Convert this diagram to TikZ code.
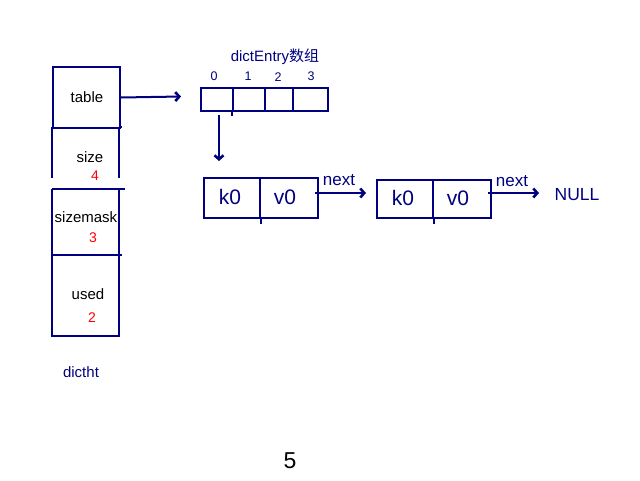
\documentclass[tikz,border=0pt]{standalone}
\usepackage{fontspec}
\setmainfont{Liberation Sans}
\newfontfamily\cjk{Noto Sans CJK SC}
\usetikzlibrary{arrows.meta}
\definecolor{lnavy}{RGB}{0,0,128}
\definecolor{lred}{RGB}{255,0,0}
\begin{document}
\begin{tikzpicture}[x=1pt,y=-1pt,
  cell/.style={draw=lnavy, line width=2pt, rectangle, inner sep=0pt, anchor=north west},
  ln/.style={draw=lnavy, line width=2pt},
  arr/.style={draw=lnavy, line width=2pt, -{Straight Barb[length=4pt,width=9pt,line width=2.6pt]}},
  lbl/.style={text=black, font=\fontsize{15}{18}\selectfont, inner sep=0pt},
  num/.style={text=lred, font=\fontsize{14}{16}\selectfont, inner sep=0pt},
  idx/.style={text=lnavy, font=\fontsize{12.5}{14}\selectfont, inner sep=0pt},
  blue/.style={text=lnavy, font=\fontsize{17}{19}\selectfont, inner sep=0pt},
  kv/.style={text=lnavy, font=\fontsize{21}{24}\selectfont, inner sep=0pt}]
\useasboundingbox (0,0) rectangle (640,480);
\fill[white] (0,0) rectangle (640,480);
% dictht column
\node[cell, minimum width=67pt, minimum height=61pt] (tbl) at (52,66) {};
\draw[ln] (119,127) -- (122,127);
\draw[ln] (52,127) -- (52,178) (119,127) -- (119,178);
\draw[ln] (52,189) -- (125,189) (52,189) -- (52,336) -- (119,336) -- (119,189);
\draw[ln] (52,255) -- (122,255);
\node[lbl] (ttable) at (87,97) {table};
\node[lbl] (tsize) at (90,157) {size};
\node[num] (nsize) at (95,176) {4};
\node[lbl] (tmask) at (86,217) {sizemask};
\node[num] (nmask) at (93,238) {3};
\node[lbl] (tused) at (88,294) {used};
\node[num] (nused) at (92,318) {2};
\node[text=lnavy, font=\fontsize{15}{18}\selectfont, inner sep=0pt] (tdictht) at (81,372) {dictht};
% dictEntry array
\node[blue, font=\fontsize{15}{18}\selectfont] (tarr) at (275,57) {dictEntry{\cjk 数组}};
\node[cell, minimum width=32pt, minimum height=23pt] (c0) at (200,87) {};
\node[cell, minimum width=32pt, minimum height=23pt] (c1) at (232,87) {};
\node[cell, minimum width=28pt, minimum height=23pt] (c2) at (264,87) {};
\node[cell, minimum width=35pt, minimum height=23pt] (c3) at (292,87) {};
\draw[ln] (c1.south west) -- ++(0,4);
\node[idx] (i0) at (214,76) {0};
\node[idx] (i1) at (248,76) {1};
\node[idx] (i2) at (278,77) {2};
\node[idx] (i3) at (311,76) {3};
\coordinate (tblend) at (181,96.5);
\draw[arr] (tbl.east) -- (tblend);
\coordinate (ds) at (219,115);
\coordinate (de) at (219,161);
\draw[arr] (ds) -- (de);
% entries
\node[cell, minimum width=56pt, minimum height=40pt] (k1) at (203,177) {};
\node[cell, minimum width=58pt, minimum height=40pt] (v1) at (259,177) {};
\draw[ln] (k1.south east) -- ++(0,5);
\node[kv] (tk1) at (230,197) {k0};
\node[kv] (tv1) at (285,197) {v0};
\node[cell, minimum width=56pt, minimum height=38pt] (k2) at (376,179) {};
\node[cell, minimum width=58pt, minimum height=38pt] (v2) at (432,179) {};
\draw[ln] (k2.south east) -- ++(0,5);
\node[kv] (tk2) at (403,198) {k0};
\node[kv] (tv2) at (458,198) {v0};
\coordinate (n1s) at (315,193);
\coordinate (n1e) at (366,193);
\draw[arr] (n1s) -- (n1e);
\node[blue] (tn1) at (339,180) {next};
\coordinate (n2s) at (488,193);
\coordinate (n2e) at (539,193);
\draw[arr] (n2s) -- (n2e);
\node[blue] (tn2) at (512,181) {next};
\node[blue, font=\fontsize{17.5}{20}\selectfont] (tnull) at (577,195) {NULL};
\node[text=black, font=\fontsize{23}{26}\selectfont, inner sep=0pt] (five) at (290,461) {5};
\end{tikzpicture}
\end{document}
